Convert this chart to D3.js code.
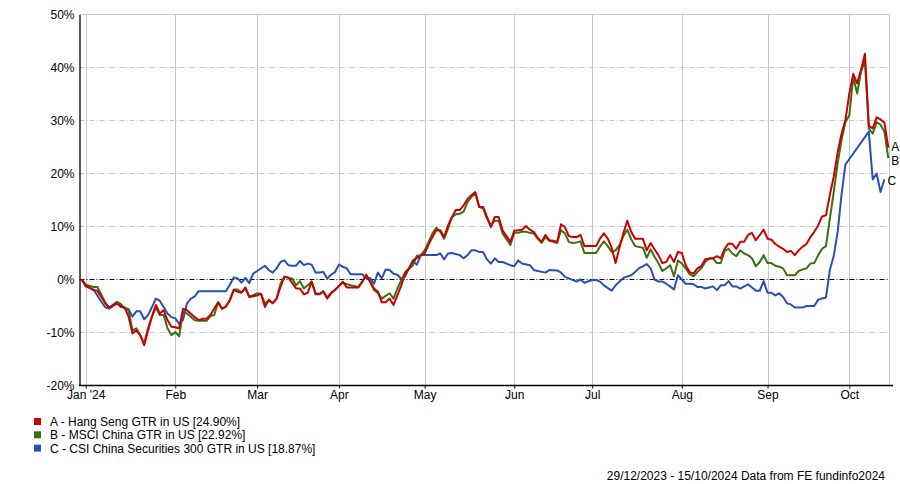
<!DOCTYPE html>
<html><head><meta charset="utf-8">
<script src="https://cdn.jsdelivr.net/npm/d3@7"></script>
<style>
body{margin:0;background:#fff}
svg{display:block}
text{font-family:"Liberation Sans",Arial,sans-serif;fill:#000}
</style></head>
<body><svg id="c" width="900" height="484"></svg>
<script>
// ---- data ----
const startDate = "2023-12-29";           // business-day index 0
const monthTicks = ["2024-01-01","2024-02-01","2024-03-01","2024-04-01","2024-05-01","2024-06-01","2024-07-01","2024-08-01","2024-09-01","2024-10-01"];
const monthLabels = ["Jan '24","Feb","Mar","Apr","May","Jun","Jul","Aug","Sep","Oct"];
const yTicks = [-20,-10,0,10,20,30,40,50];
const seriesLetters = ["A","B","C"];
const seriesNames = ["A - Hang Seng GTR in US [24.90%]","B - MSCI China GTR in US [22.92%]","C - CSI China Securities 300 GTR in US [18.87%]"];
const seriesColors = ["#cc0000","#3a7010","#2850b4"];
// [business day index, % return]
const seriesA = [[0,0],[1,-1.1],[3,-2.0],[4,-2.1],[6,-4.5],[7,-5.3],[9,-4.5],[10,-5.0],[11,-5.3],[12,-7.0],[13,-10.2],[14,-9.6],[15,-10.5],[16,-12.4],[17,-9.6],[18,-7.0],[19,-4.8],[20,-6.4],[21,-5.8],[22,-7.7],[23,-8.9],[24,-9.0],[25,-9.2],[26,-5.5],[27,-5.8],[29,-7.1],[30,-7.7],[31,-7.4],[32,-7.4],[33,-6.7],[35,-4.3],[36,-5.5],[37,-5.1],[38,-3.9],[39,-2.0],[40,-2.3],[41,-2.5],[42,-1.5],[43,-3.3],[45,-3.0],[46,-2.7],[47,-5.2],[48,-3.8],[49,-4.5],[50,-3.6],[51,-1.4],[52,0.5],[53,0.4],[55,-1.7],[56,-1.7],[57,-2.8],[58,-2.5],[59,-0.4],[60,-2.8],[61,-2.8],[62,-2.3],[63,-3.6],[64,-2.6],[65,-2.0],[67,-0.4],[68,-1.5],[71,-1.5],[72,-0.4],[73,0.9],[74,-0.4],[75,-1.7],[76,-2.3],[77,-4.3],[78,-4.3],[79,-3.6],[80,-4.8],[81,-3.0],[82,-1.1],[83,1.1],[84,2.1],[85,3.6],[87,4.5],[88,4.9],[89,6.6],[90,8.0],[91,9.3],[92,9.3],[93,8.0],[94,10.2],[95,11.8],[96,13.1],[97,13.1],[98,14.0],[99,15.2],[100,15.9],[101,16.5],[102,13.7],[103,13.7],[104,11.8],[105,9.9],[106,11.8],[107,11.8],[108,9.3],[110,7.1],[111,9.2],[112,9.3],[113,9.4],[114,10.1],[115,9.4],[116,9.0],[117,7.9],[118,7.1],[119,8.4],[120,7.4],[121,7.3],[122,7.1],[123,10.4],[124,9.9],[125,8.2],[126,8.0],[127,8.0],[128,8.4],[129,6.3],[132,6.3],[133,7.7],[134,8.7],[135,7.7],[136,6.0],[137,3.1],[138,6.0],[139,8.7],[140,11.1],[141,9.0],[142,7.7],[144,7.7],[145,5.5],[146,6.9],[147,5.7],[148,4.6],[149,3.1],[150,3.3],[151,4.6],[152,3.3],[153,5.2],[154,5.0],[155,2.7],[156,1.4],[157,1.1],[158,2.1],[159,2.5],[160,3.8],[161,3.9],[162,4.0],[163,4.4],[164,4.0],[165,5.8],[166,6.8],[167,6.7],[168,5.8],[169,7.1],[170,7.1],[171,8.4],[172,8.8],[173,7.4],[174,8.4],[175,9.4],[176,7.7],[177,7.5],[178,6.7],[179,6.2],[180,5.8],[181,5.2],[182,5.4],[183,4.6],[184,5.5],[185,6.2],[186,6.7],[187,8.0],[188,9.0],[189,10.2],[190,11.9],[191,12.1],[192,16.0],[193,19.4],[194,24.0],[195,27.5],[196,30.1],[197,35.1],[198,38.8],[199,37.0],[200,39.5],[201,42.6],[202,29.0],[203,28.5],[204,30.6],[205,30.2],[206,29.6],[207,24.9]];
const seriesB = [[0,0],[1,-1.0],[3,-1.4],[4,-1.4],[6,-4.3],[7,-5.3],[9,-4.2],[10,-4.6],[11,-5.5],[12,-5.8],[13,-9.6],[14,-9.2],[15,-10.5],[16,-12.1],[17,-9.2],[18,-7.0],[19,-5.3],[20,-6.7],[21,-6.7],[22,-9.2],[23,-10.5],[24,-9.9],[25,-10.7],[26,-6.1],[27,-6.4],[29,-7.7],[30,-7.8],[32,-7.8],[33,-6.9],[34,-6.7],[35,-4.3],[36,-5.5],[37,-5.1],[38,-3.9],[39,-1.9],[40,-1.9],[41,-2.4],[42,-1.7],[43,-3.3],[45,-2.6],[46,-2.7],[47,-4.5],[48,-4.0],[49,-4.4],[50,-3.6],[51,-0.8],[52,0.5],[53,0.3],[54,0.2],[55,-1.1],[56,-0.3],[57,-1.7],[58,-1.1],[59,-0.4],[60,-2.6],[61,-2.7],[62,-2.2],[63,-3.4],[64,-2.5],[65,-1.9],[67,-0.6],[68,-0.9],[69,-1.1],[71,-1.4],[72,-0.4],[73,0.8],[74,-0.4],[75,-2.0],[76,-2.6],[77,-3.6],[78,-3.1],[79,-2.6],[80,-3.6],[81,-1.7],[83,1.4],[85,2.7],[86,4.5],[87,4.6],[88,5.5],[89,7.1],[90,8.7],[91,9.8],[92,9.0],[93,7.7],[94,9.6],[95,11.8],[96,12.3],[97,12.4],[98,12.8],[99,14.6],[100,15.6],[101,16.2],[102,13.7],[103,13.4],[104,11.5],[105,10.2],[106,11.1],[107,11.1],[108,8.7],[110,6.5],[111,8.8],[112,8.8],[113,9.0],[114,9.0],[115,8.8],[116,8.7],[117,7.7],[118,6.9],[119,8.0],[120,7.3],[121,7.1],[122,6.9],[123,9.3],[124,8.7],[125,7.1],[126,6.9],[127,7.0],[128,7.2],[129,5.0],[132,5.0],[133,6.2],[134,7.2],[135,6.3],[136,5.2],[137,5.5],[138,6.5],[139,8.2],[140,9.4],[141,7.6],[142,6.3],[144,6.0],[145,4.1],[146,5.7],[147,4.3],[148,3.1],[149,1.6],[150,2.1],[151,2.7],[152,0.6],[153,3.6],[154,3.0],[155,2.1],[156,1.0],[157,0.6],[158,1.4],[159,2.1],[160,3.3],[161,4.0],[162,4.0],[163,3.1],[164,3.1],[165,5.4],[166,5.8],[167,4.9],[168,4.4],[169,5.5],[170,4.9],[171,4.6],[172,4.0],[173,2.5],[174,3.3],[175,4.6],[176,3.1],[177,3.1],[178,2.6],[179,2.4],[180,2.1],[181,0.8],[183,0.8],[184,1.6],[185,1.9],[186,2.1],[187,3.0],[188,3.1],[189,4.6],[190,5.8],[191,6.3],[192,11.5],[193,16.5],[194,21.9],[195,26.3],[196,29.7],[197,31.0],[198,38.2],[199,35.1],[200,39.2],[201,41.4],[202,28.5],[203,27.5],[204,29.7],[205,29.2],[206,27.9],[207,22.9]];
const seriesC = [[0,0],[1,-1.3],[3,-1.9],[4,-3.0],[5,-4.2],[6,-5.2],[7,-5.5],[9,-4.5],[10,-5.2],[11,-5.3],[12,-5.6],[13,-7.0],[14,-6.0],[15,-6.0],[16,-7.5],[17,-6.7],[18,-5.2],[19,-3.6],[20,-4.0],[21,-5.2],[22,-6.4],[23,-7.1],[24,-7.3],[25,-8.4],[26,-7.6],[27,-4.5],[28,-3.6],[29,-3.2],[30,-2.2],[37,-2.2],[38,-1.0],[39,0.4],[40,0.2],[41,-0.6],[42,0.3],[43,-0.7],[44,1.1],[45,1.6],[47,2.6],[48,1.8],[49,1.3],[50,2.1],[51,3.3],[52,3.6],[53,2.7],[54,2.6],[55,2.6],[56,3.5],[57,2.7],[58,3.0],[59,2.8],[60,1.3],[61,1.3],[62,1.4],[63,0.2],[64,0.9],[65,1.4],[66,2.8],[67,2.4],[68,2.1],[69,1.0],[72,1.0],[73,0.2],[74,0.3],[75,-0.8],[76,1.3],[77,0.2],[78,1.9],[79,1.8],[80,1.1],[81,0.9],[82,0.1],[83,0.6],[84,2.1],[85,3.5],[86,2.8],[87,4.6],[91,4.6],[92,4.9],[93,3.8],[94,4.9],[95,5.0],[97,4.6],[98,4.0],[99,4.6],[100,5.5],[101,5.5],[102,5.2],[103,5.2],[104,3.8],[105,3.0],[106,4.0],[107,3.3],[108,3.3],[110,2.7],[111,2.5],[112,3.6],[113,3.0],[115,2.7],[116,1.8],[117,1.6],[119,1.3],[120,1.8],[122,1.7],[123,1.3],[124,0.5],[125,0.2],[127,-0.4],[128,0.0],[129,-0.6],[131,-0.1],[132,-0.1],[133,-0.4],[134,-1.1],[136,-2.1],[137,-1.1],[139,0.3],[141,0.8],[142,1.4],[143,2.1],[145,2.9],[146,2.1],[147,0.0],[148,-0.4],[149,-0.4],[150,-0.8],[151,-1.3],[152,-1.9],[153,0.8],[154,0.0],[155,-0.8],[156,-0.8],[157,-0.9],[158,-1.4],[159,-1.4],[160,-1.7],[161,-1.5],[162,-1.3],[163,-2.0],[164,-1.1],[165,-1.1],[166,-0.3],[167,-1.3],[168,-1.3],[169,-1.7],[170,-1.3],[171,-0.9],[172,-1.5],[173,-2.1],[174,-2.1],[175,-0.3],[176,-2.5],[177,-2.5],[178,-3.0],[179,-2.6],[180,-3.3],[181,-4.5],[182,-4.7],[183,-5.3],[185,-5.3],[186,-5.0],[188,-5.0],[189,-3.8],[190,-3.6],[191,-3.4],[192,1.8],[193,4.5],[194,9.0],[195,16.0],[196,21.7],[202,27.9],[203,18.9],[204,20.0],[205,16.5],[206,18.9]];
const labelOffsets = [-1, 2.5, 1.5];      // vertical nudges (px) so end letters do not collide
const footerText = "29/12/2023 - 15/10/2024 Data from FE fundinfo2024";

// ---- helpers ----
function bizIndex(s){
  const d0 = new Date(startDate+"T00:00:00Z");
  let d = new Date(s+"T00:00:00Z");
  while(d.getUTCDay()===0||d.getUTCDay()===6) d = new Date(d.getTime()+864e5);
  let n=0;
  for(let t=new Date(d0); t<d; t=new Date(t.getTime()+864e5)){
    const w=t.getUTCDay(); if(w!==0&&w!==6) n++;
  }
  return n;
}

// ---- chart ----
const FS = 12;
const svg = d3.select("#c");
const x = d3.scaleLinear().domain([0,207]).range([81.8,888.3]);
const y = d3.scaleLinear().domain([-20,50]).range([385.5,14.5]);
const left = 79.5, right = 889.5;
const tickIdx = monthTicks.map(bizIndex);

// vertical grid
svg.append("g").selectAll("line").data(tickIdx).join("line")
  .attr("x1",d=>Math.round(x(d))+0.5).attr("x2",d=>Math.round(x(d))+0.5)
  .attr("y1",y(50)).attr("y2",y(-20))
  .attr("stroke","#c8c8c8").attr("stroke-width",1);
svg.append("line").attr("x1",right).attr("x2",right).attr("y1",y(50)).attr("y2",y(-20))
  .attr("stroke","#c8c8c8");

// horizontal grid
svg.append("g").selectAll("line").data(yTicks.filter(v=>v!==-20&&v!==0)).join("line")
  .attr("x1",left).attr("x2",right).attr("y1",d=>y(d)).attr("y2",d=>y(d))
  .attr("stroke","#c8c8c8").attr("stroke-width",1)
  .attr("stroke-dasharray",d=>d===50?null:"5,2,1,2");
svg.append("line").attr("x1",left).attr("x2",right).attr("y1",y(0)).attr("y2",y(0))
  .attr("stroke","#000").attr("stroke-dasharray","5,2,1,2");

// y axis
const ya = svg.append("g").attr("transform",`translate(${left},0)`)
  .call(d3.axisLeft(y).tickValues(yTicks).tickFormat(d=>d+"%").tickSize(0).tickPadding(5));
ya.select(".domain").attr("stroke","#000").attr("stroke-width",1.3);
ya.selectAll("text").attr("font-size",FS).attr("font-family","Liberation Sans, Arial, sans-serif");

// x axis
const xa = svg.append("g").attr("transform",`translate(0,${y(-20)})`)
  .call(d3.axisBottom(x).tickValues(tickIdx).tickFormat((d,i)=>monthLabels[i]).tickSize(3).tickPadding(2).tickSizeOuter(0));
xa.select(".domain").remove();
xa.append("line").attr("x1",left-0.5).attr("x2",893).attr("y1",0).attr("y2",0).attr("stroke","#000").attr("stroke-width",1.3);
xa.selectAll("text").attr("font-size",FS).attr("font-family","Liberation Sans, Arial, sans-serif");

// lines
const line = d3.line().x(d=>x(d[0])).y(d=>y(d[1]));
const allSeries = [seriesA, seriesB, seriesC];
[2,1,0].forEach(i=>{
  svg.append("path").datum(allSeries[i]).attr("d",line)
    .attr("fill","none").attr("stroke",seriesColors[i]).attr("stroke-width",2)
    .attr("stroke-linejoin","round");
});

// end labels
allSeries.forEach((s,i)=>{
  const last = s[s.length-1];
  svg.append("text").attr("x",x(last[0])+3).attr("y",y(last[1])+4+labelOffsets[i])
    .attr("font-size",12).text(seriesLetters[i]);
});

// legend
const lg = svg.append("g");
seriesNames.forEach((n,i)=>{
  lg.append("rect").attr("x",34).attr("y",418+i*13.3).attr("width",7).attr("height",7).attr("fill",seriesColors[i]);
  lg.append("text").attr("x",50).attr("y",426+i*13.3).attr("font-size",FS).text(n);
});

// footer
svg.append("text").attr("x",885).attr("y",480).attr("text-anchor","end").attr("font-size",FS).text(footerText);
</script></body></html>
